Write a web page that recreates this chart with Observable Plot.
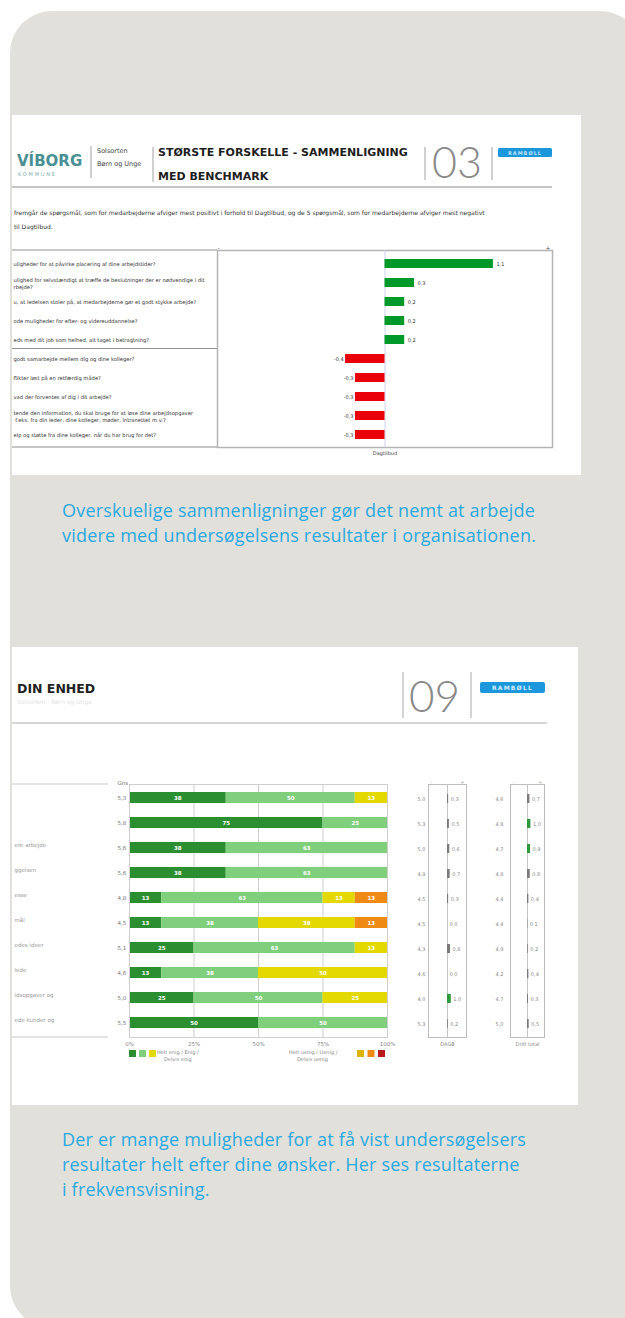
<!DOCTYPE html>
<html><head><meta charset="utf-8">
<script src="https://cdn.jsdelivr.net/npm/d3@7"></script>
<script src="https://cdn.jsdelivr.net/npm/@observablehq/plot@0.6"></script>
<style>
html,body{margin:0;padding:0;background:#fff;}
body{width:625px;height:1318px;overflow:hidden;position:relative;font-family:"DejaVu Sans",sans-serif;}
#panel{position:absolute;left:10px;top:11px;width:632px;height:1317px;border-radius:42px;background:#e2e0db;}
.box{position:absolute;background:#fff;overflow:hidden;}
.box > svg, .box > .plotwrap{position:absolute;}
.cap{position:absolute;left:62px;font-family:"Open Sans",sans-serif;font-size:18px;letter-spacing:0.2px;color:#2aa9e0;line-height:25px;white-space:nowrap;}
</style></head><body>
<div id="panel"></div>
<div class="box" id="box1" style="left:12px;top:115px;width:569px;height:360px;"></div>
<div class="cap" style="top:498px;">Overskuelige sammenligninger gør det nemt at arbejde<br>videre med undersøgelsens resultater i organisationen.</div>
<div class="box" id="box2" style="left:12px;top:647px;width:566px;height:458px;"></div>
<div class="cap" style="top:1127px;">Der er mange muligheder for at få vist undersøgelsers<br>resultater helt efter dine ønsker. Her ses resultaterne<br>i frekvensvisning.</div>
<script>
// ---------- DATA ----------
// Chart 1: største forskelle vs. benchmark (Dagtilbud)
const q1Labels = [
  "uligheder for at påvirke placering af dine arbejdstider?",
  "ulighed for selvstændigt at træffe de beslutninger der er nødvendige i dit\nrbejde?",
  "u, at ledelsen stoler på, at medarbejderne gør et godt stykke arbejde?",
  "ode muligheder for efter- og videreuddannelse?",
  "eds med dit job som helhed, alt taget i betragtning?",
  "godt samarbejde mellem dig og dine kolleger?",
  "flikter løst på en retfærdig måde?",
  "vad der forventes af dig i dit arbejde?",
  "tende den information, du skal bruge for at løse dine arbejdsopgaver\n f.eks. fra din leder, dine kolleger, møder, intranettet m.v.?",
  "elp og støtte fra dine kolleger, når du har brug for det?"
];
const q1Values = [1.1, 0.3, 0.2, 0.2, 0.2, -0.4, -0.3, -0.3, -0.3, -0.3];
const q1IntroLines = [
  "fremgår de spørgsmål, som for medarbejderne afviger mest positivt i forhold til Dagtilbud, og de 5 spørgsmål, som for medarbejderne afviger mest negativt",
  "til Dagtilbud."
];
const q1Benchmark = "Dagtilbud";

// Chart 2: frekvensvisning, din enhed
const q2Labels = ["", "", "ere arbejde", "ggelsen", "esse", "mål", "edes ideer", "lede", "idsopgaver og", "ede kunder og"];
const q2Means = [5.3, 5.8, 5.6, 5.6, 4.8, 4.5, 5.1, 4.6, 5.0, 5.5];
const likertCats = ["Helt enig", "Enig", "Delvis enig", "Delvis uenig", "Uenig", "Helt uenig"];
const likertColors = ["#2b8f32", "#80cf7d", "#e3d900", "#dfb400", "#ef8b14", "#b81b1b"];
const heltEnig    = [37.5, 75, 37.5, 37.5, 12.5, 12.5, 25, 12.5, 25, 50];
const enig        = [50, 25, 62.5, 62.5, 62.5, 37.5, 62.5, 37.5, 50, 50];
const delvisEnig  = [12.5, 0, 0, 0, 12.5, 37.5, 12.5, 50, 25, 0];
const delvisUenig = [0, 0, 0, 0, 0, 0, 0, 0, 0, 0];
const uenig       = [0, 0, 0, 0, 12.5, 12.5, 0, 0, 0, 0];
const heltUenig   = [0, 0, 0, 0, 0, 0, 0, 0, 0, 0];
const pctTicks = [0, 25, 50, 75, 100];

// Comparison columns
const dagbName = "DAGB";
const dagbMeans = [5.0, 5.3, 5.0, 4.9, 4.5, 4.5, 4.3, 4.6, 4.0, 5.3];
const dagbDiffs = [0.3, 0.5, 0.6, 0.7, 0.3, 0.0, 0.8, 0.0, 1.0, 0.2];
const dagbSig   = [0, 0, 0, 0, 0, 0, 0, 0, 1, 0];
const totalName = "Drift total";
const totalMeans = [4.6, 4.8, 4.7, 4.8, 4.4, 4.4, 4.9, 4.2, 4.7, 5.0];
const totalDiffs = [0.7, 1.0, 0.9, 0.8, 0.4, 0.1, 0.2, 0.4, 0.3, 0.5];
const totalSig   = [0, 1, 1, 0, 0, 0, 0, 0, 0, 0];

// ---------- HELPERS ----------
const fmt = v => d3.format(".1f")(v).replace(".", ",").replace("\u2212", "-");
const NS = "http://www.w3.org/2000/svg";
function svgEl(w, h, inner) {
  const s = document.createElementNS(NS, "svg");
  s.setAttribute("width", w); s.setAttribute("height", h);
  s.setAttribute("style", "left:0;top:0;position:absolute;");
  s.innerHTML = inner;
  return s;
}
function place(node, left, top) {
  const w = document.createElement("div");
  w.className = "plotwrap";
  w.style.left = left + "px"; w.style.top = top + "px";
  w.appendChild(node);
  return w;
}

// ---------- BOX 1 ----------
const box1 = document.getElementById("box1");
box1.appendChild(svgEl(569, 360, `
  <text x="5" y="51" font-family="DejaVu Sans" font-weight="bold" font-size="15" fill="#4a8f93">VÍBORG</text>
  <text x="6" y="61" font-family="DejaVu Sans" font-size="5" letter-spacing="1.8" fill="#7aabb0">KOMMUNE</text>
  <line x1="79" x2="79" y1="31" y2="63" stroke="#a0a0a0"/>
  <text x="85" y="37.5" font-family="DejaVu Sans" font-size="6.5" fill="#444">Solsorten</text>
  <text x="85" y="50.5" font-family="DejaVu Sans" font-size="6.5" fill="#444">Børn og Unge</text>
  <line x1="141" x2="141" y1="32" y2="67" stroke="#a0a0a0"/>
  <text x="146" y="41" font-family="DejaVu Sans" font-weight="bold" font-size="11" fill="#1e1e1e">STØRSTE FORSKELLE - SAMMENLIGNING</text>
  <text x="146" y="65" font-family="DejaVu Sans" font-weight="bold" font-size="11" fill="#1e1e1e">MED BENCHMARK</text>
  <line x1="413" x2="413" y1="32" y2="65" stroke="#a0a0a0"/>
  <line x1="480" x2="480" y1="32" y2="65" stroke="#a0a0a0"/>
  <text x="420" y="63" font-family="Lato" font-weight="300" font-size="43" fill="#8a8a8a">03</text>
  <rect x="486" y="33" width="54" height="9" rx="1.5" fill="#1c97db"/>
  <text x="513" y="40" text-anchor="middle" font-family="DejaVu Sans" font-weight="bold" font-size="5" letter-spacing="1" fill="#bfe3f7">RAMBØLL</text>
  <line x1="0" x2="540" y1="72" y2="72" stroke="#b0b0b0" stroke-width="1.5"/>
  <text x="2" y="100" font-family="DejaVu Sans" font-size="6" fill="#333">${q1IntroLines[0]}</text>
  <text x="2" y="114" font-family="DejaVu Sans" font-size="6" fill="#333">${q1IntroLines[1]}</text>
  <line x1="0" x2="205" y1="135" y2="135" stroke="#b4b4b4" stroke-width="1.5"/>
  <line x1="0" x2="205" y1="233.5" y2="233.5" stroke="#909090" stroke-width="1"/>
  <line x1="0" x2="205" y1="332" y2="332" stroke="#b4b4b4" stroke-width="1.5"/>
`));

const q1Data = q1Labels.map((label, i) => ({key: "a" + i, label, value: q1Values[i]}));
const p1 = Plot.plot({
  width: 569, height: 223,
  marginTop: 10, marginBottom: 16, marginLeft: 205, marginRight: 29,
  style: {background: "transparent", fontFamily: "DejaVu Sans"},
  x: {domain: [-1.7, 1.7], axis: null},
  y: {domain: q1Data.map(d => d.key), axis: null, paddingInner: 0.54, paddingOuter: 0.27},
  marks: [
    Plot.frame({stroke: "#b4b4b4", strokeWidth: 1.5}),
    Plot.ruleX([0], {stroke: "#cfd0f0"}),
    Plot.barX(q1Data, {x: "value", y: "key", fill: d => d.value > 0 ? "#00992a" : "#ea0008"}),
    Plot.text(q1Data.filter(d => d.value > 0), {x: "value", y: "key", text: d => fmt(d.value), textAnchor: "start", dx: 3, fontSize: 5, fill: "#333"}),
    Plot.text(q1Data.filter(d => d.value < 0), {x: "value", y: "key", text: d => fmt(d.value), textAnchor: "end", dx: -2, fontSize: 5, fill: "#333"}),
    Plot.text(q1Data, {y: "key", text: "label", frameAnchor: "left", textAnchor: "start", dx: -204, fontSize: 5.2, lineHeight: 1.35, fill: "#333"}),
    Plot.text(["-"], {frameAnchor: "top-left", dy: -5, fontSize: 6, fill: "#555"}),
    Plot.text(["+"], {frameAnchor: "top-right", dx: -2, dy: -5, fontSize: 6, fill: "#555"}),
    Plot.text([0], {x: d => d, text: () => q1Benchmark, frameAnchor: "bottom", dy: 7, fontSize: 5, fill: "#444"})
  ]
});
box1.appendChild(place(p1, 0, 125));

// ---------- BOX 2 ----------
const box2 = document.getElementById("box2");
let legendSvg = "";
[0, 1, 2].forEach((j, k) => legendSvg += `<rect x="${117 + k * 10}" y="403" width="7" height="7" fill="${likertColors[j]}"/>`);
[3, 4, 5].forEach((j, k) => legendSvg += `<rect x="${345 + k * 10.5}" y="403" width="7" height="7" fill="${likertColors[j]}"/>`);
box2.appendChild(svgEl(566, 458, `
  <text x="5" y="46" font-family="DejaVu Sans" font-weight="bold" font-size="12.5" fill="#222">DIN ENHED</text>
  <text x="5" y="57" font-family="DejaVu Sans" font-size="6" fill="#e4e4e4">Solsorten · Børn og Unge</text>
  <line x1="391" x2="391" y1="25" y2="71" stroke="#aaa"/>
  <line x1="459" x2="459" y1="25" y2="71" stroke="#aaa"/>
  <text x="397" y="65" font-family="Lato" font-weight="300" font-size="44" fill="#8a8a8a">09</text>
  <rect x="468" y="35" width="65" height="11" rx="2" fill="#1c97db"/>
  <text x="500.5" y="43" text-anchor="middle" font-family="DejaVu Sans" font-weight="bold" font-size="6" letter-spacing="1.2" fill="#d6eefb">RAMBØLL</text>
  <line x1="0" x2="535" y1="76" y2="76" stroke="#c8c8c8" stroke-width="1.5"/>
  <line x1="0" x2="96" y1="137" y2="137" stroke="#c8c8c8" stroke-width="1"/>
  <line x1="0" x2="96" y1="390" y2="390" stroke="#c8c8c8" stroke-width="1"/>
  ${legendSvg}
  <text x="145" y="407" font-family="DejaVu Sans" font-size="5" fill="#888">${likertCats[0]} / ${likertCats[1]} /</text>
  <text x="152" y="414" font-family="DejaVu Sans" font-size="5" fill="#888">${likertCats[2]}</text>
  <text x="277" y="407" font-family="DejaVu Sans" font-size="5" fill="#888">${likertCats[5]} / ${likertCats[4]} /</text>
  <text x="285" y="414" font-family="DejaVu Sans" font-size="5" fill="#888">${likertCats[3]}</text>
`));

const rowKeys = d3.range(10).map(i => "r" + i);
const seriesArrays = [heltEnig, enig, delvisEnig, delvisUenig, uenig, heltUenig];
const segs = [];
rowKeys.forEach((k, i) => seriesArrays.forEach((arr, j) => {
  if (arr[i] > 0) segs.push({key: k, cat: likertCats[j], pct: arr[i]});
}));
const rows2 = rowKeys.map((k, i) => ({key: k, label: q2Labels[i], mean: q2Means[i]}));

const p2 = Plot.plot({
  width: 566, height: 301,
  marginTop: 20, marginBottom: 28, marginLeft: 117, marginRight: 191,
  style: {background: "transparent", fontFamily: "DejaVu Sans"},
  x: {domain: [0, 100], axis: null},
  y: {domain: rowKeys, axis: null, paddingInner: 0.545, paddingOuter: 0.27},
  color: {domain: likertCats, range: likertColors},
  marks: [
    Plot.gridX([25, 50, 75], {stroke: "#cfcfcf", strokeOpacity: 1}),
    Plot.barX(segs, Plot.stackX({x: "pct", y: "key", fill: "cat", order: likertCats})),
    Plot.text(segs, Plot.stackX({x: "pct", y: "key", z: "cat", order: likertCats, text: d => Math.round(d.pct), fill: "white", fontSize: 5.5, fontWeight: "bold"})),
    Plot.frame({stroke: "#cfcfcf"}),
    Plot.text(["Gns"], {frameAnchor: "top-left", dx: -12, dy: -3, fontSize: 5.5, fill: "#777"}),
    Plot.text(rows2, {y: "key", text: d => fmt(d.mean), frameAnchor: "left", dx: -12, fontSize: 5.5, fill: "#777"}),
    Plot.text(rows2, {y: "key", text: "label", frameAnchor: "left", textAnchor: "start", dx: -115, dy: -3, fontSize: 5.5, fill: "#999"}),
    Plot.axisX(pctTicks, {tickFormat: d => d + "%", tickSize: 0, tickPadding: 5, fontSize: 5.5, fill: "#888", label: null})
  ]
});
box2.appendChild(place(p2, 0, 117));

function miniPlot(means, diffs, sig, name, mLeft, mRight, meanDx) {
  const data = rowKeys.map((k, i) => ({key: k, mean: means[i], diff: diffs[i], sig: sig[i]}));
  return Plot.plot({
    width: 60, height: 301,
    marginTop: 20, marginBottom: 28, marginLeft: mLeft, marginRight: mRight,
    style: {background: "transparent", fontFamily: "DejaVu Sans"},
    x: {domain: [-5, 5], axis: null},
    y: {domain: rowKeys, axis: null, paddingInner: 0.66, paddingOuter: 0.33},
    marks: [
      Plot.frame({stroke: "#bdbdbd"}),
      Plot.ruleX([0], {stroke: "#c4c4c4"}),
      Plot.barX(data, {x: "diff", y: "key", fill: d => d.sig ? "#2f9a3d" : "#7a7a7a"}),
      Plot.text(data, {x: "diff", y: "key", text: d => fmt(d.diff), textAnchor: "start", dx: 2, fontSize: 5, fill: "#888"}),
      Plot.text(data, {y: "key", text: d => fmt(d.mean), frameAnchor: "left", dx: meanDx, fontSize: 5, fill: "#888"}),
      Plot.text(["-"], {frameAnchor: "top-left", dx: 2, dy: -4, fontSize: 5, fill: "#aaa"}),
      Plot.text(["+"], {frameAnchor: "top-right", dx: -2, dy: -4, fontSize: 5, fill: "#aaa"}),
      Plot.text([0], {x: d => d, text: () => name, frameAnchor: "bottom", dy: 8, fontSize: 5, fill: "#888"})
    ]
  });
}
box2.appendChild(place(miniPlot(dagbMeans, dagbDiffs, dagbSig, dagbName, 20, 2, -11), 396, 117));
box2.appendChild(place(miniPlot(totalMeans, totalDiffs, totalSig, totalName, 22, 4, -15), 476, 117));
</script>
</body></html>
